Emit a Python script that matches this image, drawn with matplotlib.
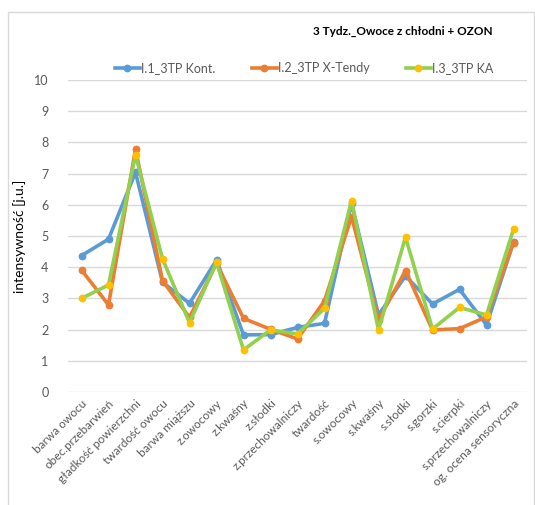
import matplotlib
matplotlib.use("Agg")
import matplotlib.pyplot as plt
from matplotlib.patches import Rectangle

plt.rcParams['font.family'] = ['Lato', 'DejaVu Sans']

categories = ["barwa owocu", "obec.przebarwień", "gładkość powierzchni", "twardość owocu",
              "barwa miąższu", "z.owocowy", "z.kwaśny", "z.słodki", "z.przechowalniczy",
              "twardość", "s.owocowy", "s.kwaśny", "s.słodki", "s.gorzki", "s.cierpki",
              "s.przechowalniczy", "og. ocena sensoryczna"]

kont = [4.37, 4.90, 7.04, 3.52, 2.84, 4.23, 1.83, 1.84, 2.07, 2.20, 6.05, 2.47, 3.72, 2.82, 3.29, 2.15, 4.80]
x_tendy = [3.91, 2.79, 7.78, 3.57, 2.39, 4.12, 2.36, 2.01, 1.70, 2.92, 5.62, 2.31, 3.89, 1.99, 2.03, 2.41, 4.79]
ka = [3.00, 3.43, 7.60, 4.27, 2.22, 4.16, 1.35, 1.99, 1.86, 2.68, 6.13, 1.99, 4.96, 2.02, 2.71, 2.47, 5.22]

series = [
    ("I.1_3TP Kont.", kont, "#5B9BD5", "#5B9BD5"),
    ("I.2_3TP X-Tendy", x_tendy, "#ED7D31", "#ED7D31"),
    ("I.3_3TP KA", ka, "#92D050", "#FFC000"),
]

W, H = 535, 505
fig = plt.figure(figsize=(W / 100, H / 100), dpi=100)
ax = fig.add_axes([68 / W, 1 - 392 / H, (527 - 68) / W, (392 - 80) / H])

# chart frame
fig.patches.append(Rectangle((8 / W, -0.01), (W - 9) / W, 1 - 12 / H + 0.01,
                             transform=fig.transFigure, fill=False,
                             edgecolor="#D9D9D9", linewidth=1))

xs = list(range(len(categories)))
for label, vals, lc, mc in series:
    ax.plot(xs, vals, color=lc, linewidth=2.6, marker="o", markersize=4.6,
            markerfacecolor=mc, markeredgecolor=mc, label=label, zorder=3)

ax.set_xlim(-0.5, len(categories) - 0.5)
ax.set_ylim(0, 10)
ax.set_yticks(range(0, 11))
ax.grid(axis="y", color="#D9D9D9", linewidth=1)
ax.set_axisbelow(True)
for s in ax.spines.values():
    s.set_visible(False)
ax.tick_params(axis="both", length=0, colors="#595959", labelsize=9)
ax.tick_params(axis="y", pad=14)
ax.set_xticks(xs)
ax.set_xticklabels(categories, rotation=45, ha="right", rotation_mode="anchor",
                   fontsize=8.5, color="#595959")
ax.tick_params(axis="x", pad=4)

fig.text(20 / W, 1 - 236 / H, "intensywność [j.u.]", rotation=90, ha="center",
         va="center", fontsize=10, color="#000000")
fig.text(403 / W, 1 - 31 / H, "3 Tydz._Owoce z chłodni + OZON", ha="center",
         va="center", fontsize=8.5, fontweight="bold", color="#000000")

fig.legend(loc="center", bbox_to_anchor=(304 / W, 1 - 68 / H), ncol=3, frameon=False,
           fontsize=9, handlelength=2.0, columnspacing=2.9, handletextpad=0.1,
           labelcolor="#595959")

fig.savefig("out.png", dpi=100, facecolor="white")
